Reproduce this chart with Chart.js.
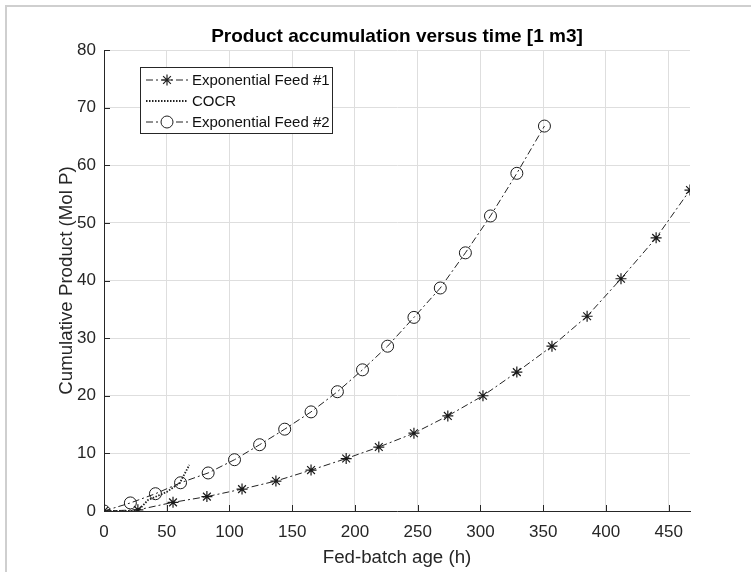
<!DOCTYPE html>
<html>
<head>
<meta charset="utf-8">
<script src="https://cdn.jsdelivr.net/npm/chart.js@4"></script>
<style>
  body { margin: 0; background: #fff; }
  #wrap { position: relative; width: 751px; height: 572px; }
  #frame { position: absolute; left: 5px; top: 5px; right: -10px; bottom: -10px; border-left: 2px solid #cfcfcf; border-top: 2px solid #cfcfcf; pointer-events: none; }
  canvas { position: absolute; left: 0; top: 0; }
</style>
</head>
<body>
<div id="wrap">
  <canvas id="chart" width="751" height="572"></canvas>
  <div id="frame"></div>
</div>
<script>
const xTicks = [0, 50, 100, 150, 200, 250, 300, 350, 400, 450];
const yTicks = [0, 10, 20, 30, 40, 50, 60, 70, 80];

const feed1X = [0, 27, 55, 82, 110, 137, 165, 193, 219, 247, 274, 302, 329, 357, 385, 412, 440, 467];
const feed1Y = [0, 0.2, 1.5, 2.5, 3.8, 5.2, 7.1, 9.1, 11.1, 13.5, 16.5, 20.0, 24.1, 28.6, 33.8, 40.3, 47.4, 55.7];

const cocrX = [0, 27, 35, 50, 60.5, 68];
const cocrY = [0, 0, 1.9, 3.3, 4.9, 8.0];

const feed2X = [0, 21, 41, 61, 83, 104, 124, 144, 165, 186, 206, 226, 247, 268, 288, 308, 329, 351];
const feed2Y = [0, 1.4, 3.0, 4.9, 6.6, 8.9, 11.5, 14.2, 17.2, 20.7, 24.5, 28.6, 33.6, 38.7, 44.8, 51.2, 58.6, 66.8];

const FONT = "'Liberation Sans', Arial, Helvetica, sans-serif";
const INK = "#262626";
const dashDot = [7, 3, 2, 3];

function pts(xs, ys) {
    return xs.map((x, i) => ({ x: x, y: ys[i] }));
}

const series = [
    { label: "Exponential Feed #1", data: pts(feed1X, feed1Y), dash: dashDot, style: "star", radius: 5.5, width: 1, mw: 1.2 },
    { label: "COCR", data: pts(cocrX, cocrY), dash: [1.5, 1.5], style: false, radius: 0, width: 1.8, mw: 1 },
    { label: "Exponential Feed #2", data: pts(feed2X, feed2Y), dash: dashDot, style: "circle", radius: 6, width: 1, mw: 1 }
];

// ticks drawn inward, like the original
const innerTicks = {
    id: "innerTicks",
    afterDraw(chart) {
        const ctx = chart.ctx;
        const a = chart.chartArea;
        const x = chart.scales.x, y = chart.scales.y;
        ctx.save();
        ctx.strokeStyle = INK;
        ctx.lineWidth = 1;
        ctx.beginPath();
        xTicks.forEach(v => {
            const px = Math.round(x.getPixelForValue(v)) + 0.5;
            ctx.moveTo(px, a.bottom);
            ctx.lineTo(px, a.bottom - 6);
        });
        yTicks.forEach(v => {
            const py = Math.round(y.getPixelForValue(v)) + 0.5;
            ctx.moveTo(a.left, py);
            ctx.lineTo(a.left + 6, py);
        });
        ctx.stroke();
        ctx.restore();
    }
};

// legend box inside the plot, top left
const boxLegend = {
    id: "boxLegend",
    afterDraw(chart) {
        const ctx = chart.ctx;
        const bx = 140, by = 67, bw = 192, bh = 66;
        ctx.save();
        ctx.fillStyle = "#fff";
        ctx.fillRect(bx, by, bw, bh);
        ctx.strokeStyle = INK;
        ctx.lineWidth = 1;
        ctx.strokeRect(bx + 0.5, by + 0.5, bw, bh);
        series.forEach((s, i) => {
            const yy = by + 13 + i * 21;
            ctx.strokeStyle = "#222";
            ctx.lineWidth = s.width;
            ctx.setLineDash(s.dash);
            ctx.beginPath();
            ctx.moveTo(bx + 6, yy);
            ctx.lineTo(bx + 48, yy);
            ctx.stroke();
            ctx.setLineDash([]);
            if (s.style) {
                ctx.lineWidth = s.mw;
                ctx.fillStyle = "#fff";
                Chart.helpers.drawPoint(ctx, { pointStyle: s.style, radius: s.radius, rotation: 0, borderWidth: s.mw }, bx + 27, yy);
            }
            ctx.fillStyle = "#111";
            ctx.font = "15px " + FONT;
            ctx.textAlign = "left";
            ctx.textBaseline = "middle";
            ctx.fillText(s.label, bx + 52, yy + 1);
        });
        ctx.restore();
    }
};

new Chart(document.getElementById("chart"), {
    type: "scatter",
    data: {
        datasets: series.map(s => ({
            label: s.label,
            data: s.data,
            showLine: true,
            borderColor: "#222",
            backgroundColor: "transparent",
            borderWidth: s.width,
            borderDash: s.dash,
            pointStyle: s.style,
            pointRadius: s.radius,
            pointBorderColor: "#1a1a1a",
            pointBackgroundColor: "transparent",
            pointBorderWidth: s.mw,
            tension: 0
        }))
    },
    options: {
        responsive: false,
        animation: false,
        layout: { padding: { left: 0, right: 61, top: 0, bottom: 0 } },
        plugins: {
            legend: { display: false },
            tooltip: { enabled: false },
            title: {
                display: true,
                text: "Product accumulation versus time [1 m3]",
                fullSize: false,
                color: "#000",
                font: { family: FONT, size: 19, weight: "bold" },
                padding: { top: 25.5, bottom: 1.7 }
            }
        },
        scales: {
            x: {
                type: "linear",
                min: 0,
                max: 467,
                afterBuildTicks: s => { s.ticks = xTicks.map(v => ({ value: v })); },
                afterFit: s => { s.height = 61; },
                grid: { color: "#dedede", drawTicks: false },
                border: { color: INK, width: 1 },
                ticks: { color: INK, padding: 11, font: { family: FONT, size: 17 } },
                title: {
                    display: true,
                    text: "Fed-batch age (h)",
                    color: INK,
                    font: { family: FONT, size: 18.7 },
                    padding: { top: 0, bottom: 3 }
                }
            },
            y: {
                type: "linear",
                min: 0,
                max: 80,
                afterBuildTicks: s => { s.ticks = yTicks.map(v => ({ value: v })); },
                afterFit: s => { s.width = 104; },
                grid: { color: "#dedede", drawTicks: false },
                border: { color: INK, width: 1 },
                ticks: { color: INK, padding: 8, font: { family: FONT, size: 17 } },
                title: {
                    display: true,
                    text: "Cumulative Product (Mol P)",
                    color: INK,
                    font: { family: FONT, size: 18.7 },
                    padding: { top: 56, bottom: 0 }
                }
            }
        }
    },
    plugins: [innerTicks, boxLegend]
});
</script>
</body>
</html>
